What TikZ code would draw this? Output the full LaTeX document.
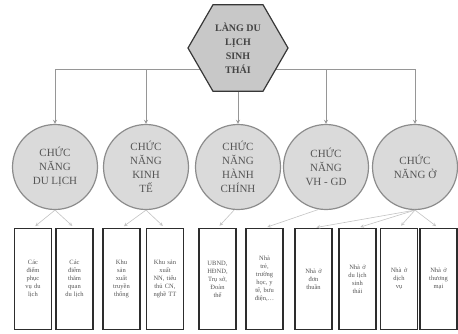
\documentclass[tikz,border=0pt]{standalone}
\usepackage{fontspec}
\setmainfont{Liberation Serif}
\usepackage{tikz}
\usetikzlibrary{arrows,shapes.geometric,positioning}

\begin{document}
\begin{tikzpicture}
			\definecolor{hexFillColour}{RGB}{200, 200, 200}
			\definecolor{hexLineColour}{RGB}{55, 55, 55}
			\definecolor{circleFillColour}{RGB}{218, 218, 218}
			\definecolor{circleLineColour}{RGB}{140, 140, 140}
			\definecolor{topArrowColour}{RGB}{150, 150, 150}
			\definecolor{lowArrowColour}{RGB}{195, 195, 195}
			\definecolor{labelColour}{RGB}{85, 85, 85}
			\definecolor{boxLineColour}{RGB}{45, 45, 45}
			\tikzstyle{village}=[regular polygon, regular polygon sides=6, draw=hexLineColour, fill=hexFillColour, very thick, minimum size=100pt, inner sep=0pt, align=center, text=labelColour!80!black, font=\fontsize{10}{14}\selectfont\bfseries]
			\tikzstyle{role}=[circle, draw=circleLineColour, fill=circleFillColour, very thick, minimum size=85pt, inner sep=0pt, align=center, text=labelColour, font=\fontsize{11}{14}\selectfont]
			\tikzstyle{item}=[rectangle, draw=boxLineColour, line width=1.1pt, minimum width=37pt, minimum height=101pt, text width=33pt, inner sep=0pt, align=center, text=labelColour, font=\fontsize{6.5}{8}\selectfont]

			\useasboundingbox (0pt,0pt) rectangle (458pt,-333pt);

			\node [role, xshift=55pt, yshift=-167pt] (a) {CHỨC\\NĂNG\\DU LỊCH};
			\node [role, xshift=146pt, yshift=-167pt] (b) {CHỨC\\NĂNG\\KINH\\TẾ};
			\node [role, xshift=238pt, yshift=-167pt] (c) {CHỨC\\NĂNG\\HÀNH\\CHÍNH};
			\node [role, xshift=326pt, yshift=-167pt] (d) {CHỨC\\NĂNG\\VH - GD};
			\node [role, xshift=415pt, yshift=-167pt] (e) {CHỨC\\NĂNG Ở};

			\node [item, xshift=33pt, yshift=-279pt] (A) {Các\\điểm\\phục\\vụ du\\lịch};
			\node [item, xshift=74.5pt, yshift=-279pt] (B) {Các\\điểm\\thăm\\quan\\du lịch};
			\node [item, xshift=121.5pt, yshift=-279pt] (C) {Khu\\sản\\xuất\\truyền\\thống};
			\node [item, xshift=165pt, yshift=-279pt] (D) {Khu sản\\xuất\\NN, tiểu\\thủ CN,\\nghề TT};
			\node [item, xshift=217.5pt, yshift=-279pt] (E) {UBND,\\HĐND,\\Trụ sở,\\Đoàn\\thể};
			\node [item, xshift=264.5pt, yshift=-279pt] (F) {Nhà\\trẻ,\\trường\\học, y\\tế, bưu\\điện,…};
			\node [item, xshift=313.5pt, yshift=-279pt] (G) {Nhà ở\\đơn\\thuần};
			\node [item, xshift=357.5pt, yshift=-279pt] (H) {Nhà ở\\du lịch\\sinh\\thái};
			\node [item, xshift=399pt, yshift=-279pt] (I) {Nhà ở\\dịch\\vụ};
			\node [item, xshift=438.5pt, yshift=-279pt] (J) {Nhà ở\\thương\\mại};

			\coordinate [xshift=238pt, yshift=-69pt] (hub);

			\path[->, >=stealth, thick, color=topArrowColour]
			(hub) edge [to path={-| (\tikztotarget)}] (a)
			(hub) edge [to path={-| (\tikztotarget)}] (b)
			(hub) edge (c)
			(hub) edge [to path={-| (\tikztotarget)}] (d)
			(hub) edge [to path={-| (\tikztotarget)}] (e);

			\node [village, xshift=238pt, yshift=-48pt] (root) {LÀNG DU\\LỊCH\\SINH\\THÁI};

			\path[->, >=stealth, semithick, color=lowArrowColour, shorten >=3pt]
			(a.south) edge (A.north)
			(a.south) edge (B.north)
			(b.south) edge (C.north)
			(b.south) edge (D.north)
			(c.265) edge (E.north)
			(d.260) edge (F.north)
			(e.south) edge (G.north)
			(e.south) edge (H.north)
			(e.south) edge (I.north)
			(e.south) edge (J.north);
		\end{tikzpicture}
\end{document}
